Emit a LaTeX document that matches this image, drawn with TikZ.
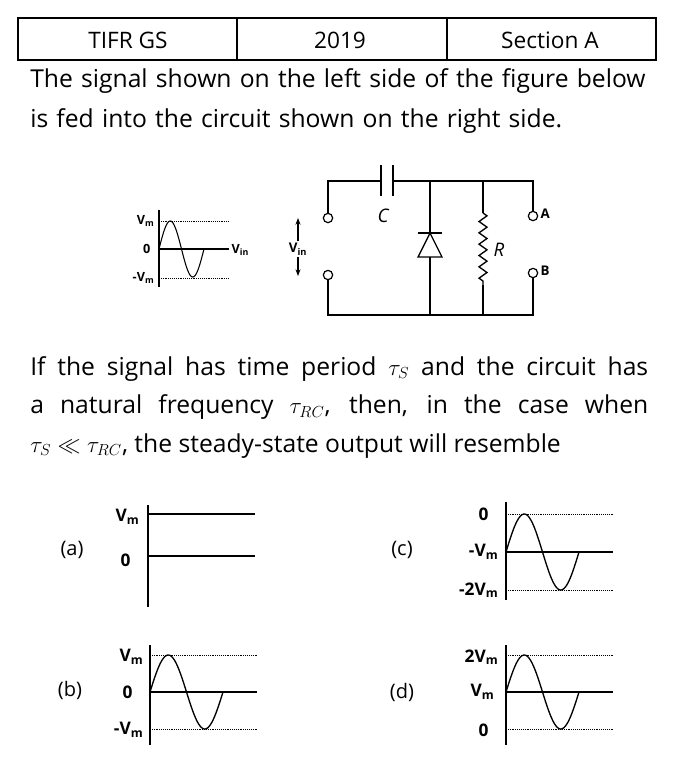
\documentclass[tikz,border=0pt]{standalone}
\usepackage{fontspec}
\setmainfont{Open Sans}
\usetikzlibrary{arrows.meta,decorations.pathmorphing}
\newcommand\mywave[6]{% x0, ymid, period, amp, axis top, axis bottom
  \draw[line width=1.2pt] (#1,#5) -- (#1,#6);
  \draw[line width=1pt] (#1,#2) -- ({#1+1.47*#3},#2);
  \draw[densely dotted] (#1,{#2-#4}) -- ({#1+1.47*#3},{#2-#4});
  \draw[densely dotted] (#1,{#2+#4}) -- ({#1+1.47*#3},{#2+#4});
  \draw[line width=1pt] plot[domain=0:1,samples=60,smooth] ({#1+#3*\x},{#2-#4*sin(360*\x)});
}
\tikzset{lab/.style={font=\fontsize{13}{13}\selectfont\bfseries,anchor=east,inner sep=1pt},
 opt/.style={font=\fontsize{15}{15}\rmfamily\selectfont},
 wire/.style={line width=1pt},
 term/.style={circle,draw,line width=0.9pt,fill=white,minimum size=7pt,inner sep=0pt}}
\begin{document}
\begin{tikzpicture}[x=0.75pt,y=-0.75pt]
\useasboundingbox (0,0) rectangle (680,783);
% header table
\draw[line width=0.8pt] (18,18) rectangle (656,60) (237,18) -- (237,60) (447,18) -- (447,60);
\node[font=\fontsize{17}{17}\selectfont] (h1) at (128,40) {TIFR GS};
\node[font=\fontsize{17}{17}\selectfont] (h2) at (340,40) {2019};
\node[font=\fontsize{17}{17}\selectfont] (h3) at (550,40) {Section A};
\node[anchor=north west,text width=622*0.75pt,align=left,inner sep=0pt,font=\fontsize{18.5}{30}\selectfont] (t1) at (30,68)
 {The signal shown on the left side of the figure below is fed into the circuit shown on the right side.};
\node[anchor=north west,text width=618*0.75pt,align=justify,inner sep=0pt,font=\fontsize{18.5}{29}\selectfont] (t2) at (30,356)
 {If the signal has time period $\tau_S$ and the circuit has a natural frequency $\tau_{RC}$, then, in the case when\linebreak $\tau_S\ll\tau_{RC}$, the steady-state output will resemble};
% input signal
\draw[line width=1pt] (159,210) -- (159,287);
\draw[line width=0.8pt] (159,249) -- (229,249);
\draw[densely dotted] (159,221) -- (229,221) (159,278) -- (229,278);
\draw[line width=0.8pt] plot[domain=0:1,samples=60,smooth] ({159+45*\x},{249-28*sin(360*\x)});
\node[font=\fontsize{9.5}{9.5}\selectfont\bfseries,anchor=east,inner sep=1pt] (a1) at (156,221) {V\textsubscript{m}};
\node[font=\fontsize{9.5}{9.5}\selectfont\bfseries,anchor=east,inner sep=1pt] (a2) at (152,249) {0};
\node[font=\fontsize{9.5}{9.5}\selectfont\bfseries,anchor=east,inner sep=1pt] (a3) at (156,278) {-V\textsubscript{m}};
\node[font=\fontsize{9.5}{9.5}\selectfont\bfseries,anchor=west,inner sep=1pt] (a4) at (230,250) {V\textsubscript{in}};
% circuit
\node[term] (i1) at (328,218) {};
\node[term] (i2) at (328,275) {};
\node[term] (oA) at (533,216) {};
\node[term] (oB) at (533,273) {};
\coordinate (c1) at (381,181); \coordinate (c2) at (393,181);
\draw[wire] (i1) -- (328,181) -- (c1);
\draw[wire] (c2) -- (533,181) -- (oA);
\draw[line width=1.3pt] (381,165) -- (381,196) (393,165) -- (393,196);
\draw[wire] (i2) -- (328,315) -- (533,315) -- (oB);
\draw[wire] (430,181) -- (430,233) (430,257) -- (430,315);
\draw[wire] (418,233) -- (442,233);
\draw[wire] (430,233) -- (418,257) -- (442,257) -- cycle;
\draw[wire] (483,181) -- (483,213);
\draw[wire,decorate,decoration={zigzag,segment length=8.5pt,amplitude=3pt}] (483,213) -- (483,285);
\draw[wire] (483,285) -- (483,315);
\node[font=\fontsize{14}{14}\itshape\rmfamily\selectfont] (lC) at (383,216) {C};
\node[font=\fontsize{14}{14}\itshape\rmfamily\selectfont] (lR) at (499,250) {R};
\node[font=\fontsize{10}{10}\selectfont\bfseries,anchor=west] (lA) at (536,214) {A};
\node[font=\fontsize{10}{10}\selectfont\bfseries,anchor=west] (lB) at (536,271) {B};
\node[font=\fontsize{10}{10}\selectfont\bfseries,inner sep=1pt] (vin) at (298,249) {V\textsubscript{in}};
\draw[-{Stealth[length=5pt]},line width=0.9pt] (vin.north) -- (298,218);
\draw[-{Stealth[length=5pt]},line width=0.9pt] (vin.south) -- (298,276);
% (a)
\draw[line width=1.2pt] (148,505) -- (148,607);
\draw[line width=1pt] (148,514) -- (255,514) (148,556) -- (255,556);
\node[lab] (la1) at (141,517) {V\textsubscript{m}};
\node[lab] (la2) at (132,560) {0};
\node[opt] (oa) at (72,550) {(a)};
% (c)
\mywave{506}{552}{73}{38}{502}{600}
\node[lab] (lc1) at (490,514) {0};
\node[lab] (lc2) at (500,552) {-V\textsubscript{m}};
\node[lab] (lc3) at (500,590) {-2V\textsubscript{m}};
\node[opt] (oc) at (402,550) {(c)};
% (b)
\mywave{150}{692}{73}{37}{645}{745}
\node[lab] (lb1) at (145,657) {V\textsubscript{m}};
\node[lab] (lb2) at (134,692) {0};
\node[lab] (lb3) at (145,730) {-V\textsubscript{m}};
\node[opt] (ob) at (70,690) {(b)};
% (d)
\mywave{506}{692}{73}{37}{645}{745}
\node[lab] (ld1) at (500,657) {2V\textsubscript{m}};
\node[lab] (ld2) at (496,692) {V\textsubscript{m}};
\node[lab] (ld3) at (490,730) {0};
\node[opt] (od) at (402,692) {(d)};
\end{tikzpicture}
\end{document}
